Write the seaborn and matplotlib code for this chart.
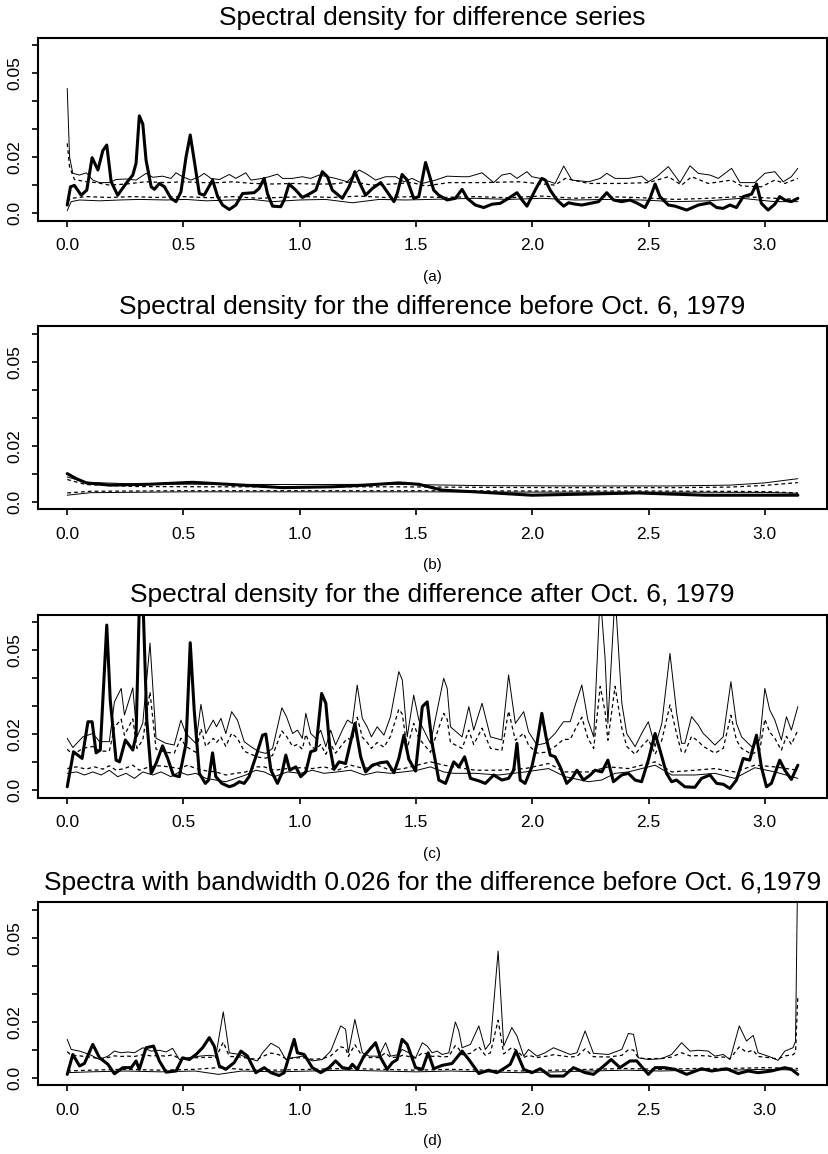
import matplotlib
matplotlib.use("Agg")
import matplotlib.pyplot as plt
import seaborn as sns

sns.set_style("ticks", {"axes.edgecolor": "black", "xtick.color": "black",
                        "ytick.color": "black", "text.color": "black",
                        "axes.labelcolor": "black"})
plt.rcParams['font.family'] = ['Liberation Sans', 'DejaVu Sans']

# ---------------- panel (a): whole difference series ----------------
a_est_x = [0, 0.014, 0.031, 0.06, 0.084, 0.107, 0.132, 0.153, 0.17, 0.189,
           0.217, 0.253, 0.282, 0.296, 0.31, 0.325, 0.339, 0.361, 0.375, 0.396,
           0.418, 0.446, 0.468, 0.489, 0.511, 0.529, 0.546, 0.568, 0.589, 0.625,
           0.647, 0.668, 0.697, 0.725, 0.754, 0.804, 0.825, 0.847, 0.861, 0.883,
           0.918, 0.933, 0.954, 0.983, 1.011, 1.04, 1.069, 1.097, 1.119, 1.14,
           1.183, 1.212, 1.237, 1.255, 1.283, 1.312, 1.348, 1.376, 1.405, 1.419,
           1.44, 1.462, 1.49, 1.512, 1.541, 1.555, 1.576, 1.598, 1.634, 1.669,
           1.698, 1.72, 1.755, 1.791, 1.827, 1.862, 1.898, 1.934, 1.956, 1.977,
           1.998, 2.02, 2.041, 2.056, 2.077, 2.106, 2.135, 2.156, 2.185, 2.213,
           2.249, 2.285, 2.32, 2.349, 2.384, 2.42, 2.448, 2.485, 2.506, 2.528,
           2.549, 2.585, 2.614, 2.664, 2.714, 2.764, 2.793, 2.821, 2.85, 2.878,
           2.907, 2.943, 2.964, 2.985, 3.014, 3.043, 3.064, 3.086, 3.114, 3.142]
a_est = [0.003, 0.0095, 0.010, 0.0065, 0.0083, 0.0199, 0.0155, 0.0224, 0.0244, 0.0113,
         0.0065, 0.0107, 0.0137, 0.0179, 0.0348, 0.0319, 0.019, 0.0095, 0.0086, 0.0107,
         0.0095, 0.0054, 0.0042, 0.0077, 0.0202, 0.028, 0.019, 0.0071, 0.0065, 0.0119,
         0.006, 0.003, 0.0014, 0.003, 0.0071, 0.0074, 0.0089, 0.0125, 0.0071, 0.0026,
         0.0024, 0.0048, 0.0105, 0.0083, 0.0057, 0.0069, 0.0083, 0.0149, 0.0131, 0.0083,
         0.0054, 0.0095, 0.0149, 0.0113, 0.0065, 0.0089, 0.011, 0.0077, 0.0042, 0.0071,
         0.0139, 0.0119, 0.0054, 0.006, 0.0182, 0.0143, 0.0083, 0.0065, 0.0048, 0.0054,
         0.0086, 0.0054, 0.003, 0.0021, 0.0033, 0.0036, 0.0054, 0.0074, 0.0048, 0.0026,
         0.006, 0.0095, 0.0125, 0.0119, 0.0083, 0.0048, 0.0026, 0.0038, 0.0033, 0.003,
         0.0036, 0.0042, 0.0074, 0.0048, 0.0042, 0.0048, 0.0038, 0.0021, 0.0054, 0.0105,
         0.006, 0.003, 0.0026, 0.0012, 0.003, 0.0038, 0.0021, 0.0018, 0.003, 0.0021,
         0.006, 0.0069, 0.0105, 0.0036, 0.0012, 0.0033, 0.006, 0.0048, 0.0042, 0.0054]

a_up_x = [0, 0.01, 0.024, 0.053, 0.082, 0.11, 0.139, 0.182, 0.21, 0.253,
          0.296, 0.339, 0.368, 0.41, 0.446, 0.468, 0.496, 0.532, 0.568, 0.589,
          0.618, 0.654, 0.697, 0.725, 0.768, 0.79, 0.84, 0.868, 0.904, 0.926,
          0.968, 1.011, 1.047, 1.083, 1.119, 1.154, 1.204, 1.255, 1.283, 1.326,
          1.369, 1.412, 1.448, 1.483, 1.527, 1.584, 1.634, 1.698, 1.727, 1.784,
          1.834, 1.869, 1.905, 1.934, 1.977, 1.998, 2.034, 2.098, 2.135, 2.17,
          2.242, 2.292, 2.32, 2.356, 2.413, 2.47, 2.499, 2.535, 2.585, 2.635,
          2.678, 2.714, 2.764, 2.8, 2.857, 2.893, 2.957, 3.0, 3.043, 3.079,
          3.114, 3.142]
a_up_solid = [0.0446, 0.0202, 0.0143, 0.0137, 0.0145, 0.0119, 0.011, 0.011, 0.0121, 0.0123,
              0.0119, 0.0143, 0.0129, 0.0133, 0.0125, 0.0145, 0.0131, 0.0119, 0.0131, 0.0143,
              0.0125, 0.0121, 0.0139, 0.0125, 0.0145, 0.0119, 0.0125, 0.0131, 0.014, 0.0125,
              0.0125, 0.0131, 0.0125, 0.0137, 0.0131, 0.0125, 0.0113, 0.0155, 0.0143, 0.0119,
              0.0131, 0.0131, 0.0113, 0.0125, 0.0107, 0.0119, 0.0133, 0.0131, 0.0131, 0.0145,
              0.011, 0.0137, 0.0143, 0.0125, 0.0149, 0.0131, 0.0125, 0.0107, 0.0169, 0.0119,
              0.0113, 0.0125, 0.0143, 0.0125, 0.0125, 0.0133, 0.0113, 0.0131, 0.0167, 0.011,
              0.017, 0.0143, 0.0137, 0.0125, 0.0161, 0.011, 0.011, 0.0143, 0.0149, 0.0113,
              0.0131, 0.0161]

a_upd_x = [0, 0.01, 0.031, 0.082, 0.124, 0.182, 0.253, 0.339, 0.425, 0.496,
           0.582, 0.654, 0.711, 0.797, 0.883, 0.968, 1.054, 1.14, 1.226, 1.312,
           1.398, 1.483, 1.541, 1.641, 1.784, 1.941, 2.098, 2.142, 2.242, 2.384,
           2.499, 2.585, 2.642, 2.685, 2.757, 2.857, 2.9, 2.985, 3.043, 3.086,
           3.142]
a_up_dash = [0.025, 0.0167, 0.0121, 0.0113, 0.011, 0.0101, 0.0105, 0.0113, 0.011, 0.0113,
             0.011, 0.011, 0.0113, 0.0107, 0.0105, 0.0107, 0.0105, 0.0105, 0.0113, 0.0101,
             0.0105, 0.011, 0.0098, 0.011, 0.011, 0.0113, 0.0101, 0.0125, 0.0107, 0.0107,
             0.011, 0.0131, 0.0101, 0.0131, 0.0107, 0.0119, 0.0098, 0.0095, 0.0119, 0.0107,
             0.0125]

a_lod_x = [0, 0.017, 0.082, 0.182, 0.282, 0.382, 0.496, 0.611, 0.711, 0.825,
           0.911, 1.026, 1.14, 1.255, 1.369, 1.483, 1.612, 1.755, 1.898, 2.041,
           2.185, 2.327, 2.47, 2.614, 2.757, 2.9, 3.043, 3.142]
a_lo_dash = [0.0042, 0.0054, 0.006, 0.0057, 0.006, 0.0057, 0.006, 0.0056, 0.006, 0.0054,
             0.0057, 0.006, 0.0057, 0.0062, 0.0057, 0.006, 0.0057, 0.006, 0.0056, 0.0062,
             0.0054, 0.006, 0.0056, 0.005, 0.0054, 0.006, 0.0054, 0.005]

a_lo_x = [0, 0.017, 0.053, 0.139, 0.225, 0.31, 0.425, 0.511, 0.597, 0.711,
          0.797, 0.883, 0.997, 1.111, 1.226, 1.341, 1.455, 1.612, 1.755, 1.898,
          2.041, 2.185, 2.327, 2.47, 2.614, 2.757, 2.9, 3.043, 3.142]
a_lo_solid = [0.001, 0.0042, 0.0048, 0.0045, 0.0048, 0.005, 0.0048, 0.005, 0.0045, 0.0048,
              0.005, 0.0042, 0.0048, 0.005, 0.0038, 0.005, 0.0048, 0.0051, 0.0054, 0.005,
              0.0054, 0.0048, 0.005, 0.0048, 0.0042, 0.0045, 0.0054, 0.0042, 0.0042]

# ---------------- panel (b): before Oct. 6, 1979 ----------------
b_est_x = [0, 0.039, 0.082, 0.182, 0.353, 0.539, 0.711, 0.926, 1.14, 1.283,
           1.426, 1.512, 1.612, 1.755, 1.998, 2.17, 2.456, 2.743, 3.142]
b_est = [0.0101, 0.0083, 0.0068, 0.006, 0.0063, 0.007, 0.0062, 0.0051, 0.0054, 0.006,
         0.0068, 0.0063, 0.0042, 0.0036, 0.0024, 0.0027, 0.0032, 0.0024, 0.0024]

b_up_x = [0, 0.08, 0.3, 0.6, 1.0, 1.4, 1.8, 2.2, 2.6, 2.85, 3.0, 3.142]
b_up_solid = [0.0089, 0.007, 0.0064, 0.0063, 0.0062, 0.0063, 0.0058, 0.0057, 0.0057, 0.006, 0.0068, 0.0083]
b_up_dash = [0.008, 0.0062, 0.0055, 0.0054, 0.0054, 0.0054, 0.0052, 0.0051, 0.0051, 0.0053, 0.0059, 0.0069]

b_lo_x = [0, 0.1, 0.5, 1.0, 1.5, 2.0, 2.5, 3.0, 3.142]
b_lo_dash = [0.0032, 0.0038, 0.004, 0.004, 0.004, 0.0039, 0.0039, 0.0037, 0.0032]
b_lo_solid = [0.0024, 0.0033, 0.0036, 0.0036, 0.0036, 0.0035, 0.0035, 0.0034, 0.0031]

# ---------------- panel (c): after Oct. 6, 1979 ----------------
c_est_x = [0, 0.027, 0.064, 0.089, 0.107, 0.124, 0.142, 0.17, 0.185, 0.21,
           0.225, 0.25, 0.282, 0.296, 0.31, 0.328, 0.342, 0.361, 0.382, 0.41,
           0.432, 0.456, 0.482, 0.511, 0.529, 0.546, 0.568, 0.594, 0.608, 0.625,
           0.639, 0.665, 0.697, 0.718, 0.74, 0.761, 0.782, 0.811, 0.84, 0.854,
           0.876, 0.904, 0.923, 0.94, 0.957, 0.983, 1.004, 1.026, 1.047, 1.069,
           1.094, 1.112, 1.129, 1.147, 1.169, 1.197, 1.237, 1.262, 1.283, 1.312,
           1.348, 1.376, 1.405, 1.426, 1.448, 1.469, 1.498, 1.527, 1.548, 1.569,
           1.598, 1.627, 1.662, 1.684, 1.709, 1.734, 1.77, 1.798, 1.834, 1.869,
           1.898, 1.92, 1.934, 1.948, 1.969, 1.998, 2.02, 2.041, 2.059, 2.077,
           2.098, 2.12, 2.148, 2.17, 2.192, 2.22, 2.249, 2.27, 2.299, 2.325,
           2.349, 2.384, 2.413, 2.442, 2.47, 2.499, 2.528, 2.549, 2.577, 2.599,
           2.62, 2.656, 2.699, 2.728, 2.764, 2.793, 2.821, 2.85, 2.878, 2.907,
           2.935, 2.964, 2.985, 3.007, 3.028, 3.064, 3.086, 3.114, 3.142]
c_est = [0.0012, 0.0137, 0.0113, 0.0244, 0.0244, 0.0133, 0.0143, 0.0589, 0.0321, 0.0107,
         0.0101, 0.0179, 0.0143, 0.0196, 0.066, 0.0619, 0.025, 0.006, 0.0095, 0.0158,
         0.0113, 0.0054, 0.0048, 0.0167, 0.0526, 0.0286, 0.006, 0.0024, 0.0036, 0.0133,
         0.0048, 0.0024, 0.0012, 0.0018, 0.003, 0.0024, 0.0048, 0.0119, 0.0196, 0.02,
         0.0071, 0.0024, 0.006, 0.0125, 0.0071, 0.0083, 0.0048, 0.0065, 0.0137, 0.0143,
         0.0345, 0.031, 0.0155, 0.0074, 0.0101, 0.0095, 0.0238, 0.0119, 0.0065, 0.0089,
         0.0098, 0.0101, 0.0062, 0.0113, 0.0196, 0.011, 0.0068, 0.0298, 0.0315, 0.0167,
         0.0036, 0.0024, 0.0101, 0.0083, 0.0119, 0.0042, 0.0033, 0.0024, 0.0054, 0.0036,
         0.0042, 0.0071, 0.0167, 0.0036, 0.0024, 0.0083, 0.0167, 0.0274, 0.019, 0.0125,
         0.0119, 0.0083, 0.0024, 0.0042, 0.0071, 0.0036, 0.0054, 0.0071, 0.0065, 0.0107,
         0.003, 0.0054, 0.006, 0.0036, 0.003, 0.0107, 0.0202, 0.0143, 0.006, 0.003,
         0.0036, 0.0012, 0.001, 0.0042, 0.0054, 0.0024, 0.0021, 0.0006, 0.0036, 0.0113,
         0.0107, 0.0196, 0.0083, 0.0012, 0.0024, 0.0107, 0.0071, 0.0038, 0.0089]

c_up_x = [0, 0.024, 0.067, 0.11, 0.139, 0.181, 0.203, 0.232, 0.246, 0.282,
          0.3, 0.325, 0.356, 0.382, 0.425, 0.46, 0.489, 0.51, 0.553, 0.575,
          0.596, 0.628, 0.642, 0.661, 0.682, 0.707, 0.732, 0.761, 0.79, 0.825,
          0.854, 0.883, 0.923, 0.943, 0.969, 0.99, 1.011, 1.026, 1.047, 1.069,
          1.09, 1.112, 1.133, 1.154, 1.183, 1.205, 1.226, 1.247, 1.269, 1.29,
          1.308, 1.333, 1.362, 1.39, 1.426, 1.441, 1.462, 1.49, 1.512, 1.562,
          1.619, 1.634, 1.648, 1.698, 1.727, 1.748, 1.784, 1.82, 1.869, 1.898,
          1.927, 1.963, 1.984, 2.02, 2.055, 2.098, 2.134, 2.163, 2.187, 2.213,
          2.239, 2.264, 2.292, 2.313, 2.325, 2.356, 2.385, 2.406, 2.442, 2.47,
          2.499, 2.528, 2.557, 2.592, 2.621, 2.642, 2.656, 2.685, 2.714, 2.735,
          2.757, 2.785, 2.821, 2.854, 2.878, 2.9, 2.943, 2.978, 3.0, 3.021,
          3.043, 3.071, 3.093, 3.114, 3.142]
c_up_solid = [0.0185, 0.0152, 0.019, 0.0202, 0.0173, 0.0173, 0.0315, 0.0363, 0.0268, 0.0365,
              0.019, 0.024, 0.0525, 0.0185, 0.0167, 0.0161, 0.025, 0.0202, 0.0167, 0.0306,
              0.0202, 0.025, 0.0226, 0.0256, 0.0202, 0.028, 0.025, 0.0173, 0.0155, 0.0137,
              0.0131, 0.0149, 0.0294, 0.0262, 0.0202, 0.0214, 0.0185, 0.0274, 0.0202, 0.0185,
              0.0214, 0.0155, 0.0214, 0.0161, 0.0214, 0.025, 0.0238, 0.0375, 0.0256, 0.0226,
              0.019, 0.0226, 0.0196, 0.0262, 0.0423, 0.0393, 0.019, 0.0339, 0.025, 0.0167,
              0.0399, 0.0363, 0.0226, 0.019, 0.0298, 0.0214, 0.031, 0.019, 0.0179, 0.0411,
              0.0238, 0.028, 0.0208, 0.0161, 0.0167, 0.0202, 0.0244, 0.0244, 0.031, 0.0375,
              0.025, 0.019, 0.07, 0.047, 0.0238, 0.07, 0.031, 0.0202, 0.0155, 0.0202,
              0.0244, 0.0155, 0.0238, 0.0488, 0.0274, 0.0167, 0.0167, 0.0262, 0.0232, 0.0202,
              0.0185, 0.0161, 0.019, 0.0387, 0.0238, 0.019, 0.0155, 0.0179, 0.0363, 0.0286,
              0.025, 0.0179, 0.0262, 0.0214, 0.0298]
c_up_dash = [0.0146, 0.0126, 0.0149, 0.0156, 0.0139, 0.0139, 0.0224, 0.0253, 0.0196, 0.0254,
             0.0149, 0.0179, 0.035, 0.0146, 0.0135, 0.0132, 0.0185, 0.0156, 0.0135, 0.0219,
             0.0156, 0.0185, 0.017, 0.0189, 0.0156, 0.0203, 0.0185, 0.0139, 0.0128, 0.0117,
             0.0114, 0.0124, 0.0211, 0.0192, 0.0156, 0.0163, 0.0146, 0.0199, 0.0156, 0.0146,
             0.0163, 0.0128, 0.0163, 0.0132, 0.0163, 0.0185, 0.0178, 0.026, 0.0189, 0.017,
             0.0149, 0.017, 0.0153, 0.0192, 0.0289, 0.0271, 0.0149, 0.0238, 0.0185, 0.0135,
             0.0274, 0.0253, 0.017, 0.0149, 0.0214, 0.0163, 0.0221, 0.0149, 0.0142, 0.0282,
             0.0178, 0.0203, 0.016, 0.0132, 0.0135, 0.0156, 0.0181, 0.0181, 0.0221, 0.026,
             0.0185, 0.0149, 0.037, 0.028, 0.0178, 0.037, 0.0221, 0.0156, 0.0128, 0.0156,
             0.0181, 0.0128, 0.0178, 0.0304, 0.0199, 0.0135, 0.0135, 0.0192, 0.0174, 0.0156,
             0.0146, 0.0132, 0.0149, 0.0267, 0.0178, 0.0149, 0.0128, 0.0142, 0.0253, 0.0207,
             0.0185, 0.0142, 0.0192, 0.0163, 0.0214]

c_lod_x = [0, 0.04, 0.081, 0.117, 0.153, 0.181, 0.21, 0.246, 0.282, 0.31,
           0.353, 0.396, 0.439, 0.482, 0.518, 0.553, 0.596, 0.639, 0.682, 0.725,
           0.768, 0.811, 0.847, 0.89, 0.947, 1.004, 1.054, 1.104, 1.162, 1.219,
           1.276, 1.333, 1.39, 1.447, 1.505, 1.562, 1.619, 1.662, 1.755, 1.855,
           1.97, 2.07, 2.141, 2.241, 2.327, 2.413, 2.528, 2.6, 2.7, 2.785,
           2.871, 2.957, 3.043, 3.142]
c_lo_dash = [0.0077, 0.0083, 0.0075, 0.0083, 0.0075, 0.0087, 0.0071, 0.0077, 0.0089, 0.0071,
             0.0083, 0.0087, 0.0083, 0.0077, 0.0089, 0.0077, 0.0069, 0.0065, 0.0054, 0.006,
             0.0065, 0.0083, 0.0083, 0.0071, 0.0077, 0.008, 0.0077, 0.0083, 0.0071, 0.0089,
             0.0077, 0.0089, 0.0071, 0.0077, 0.0089, 0.0101, 0.0089, 0.0083, 0.0071, 0.0071,
             0.0077, 0.0095, 0.0065, 0.0065, 0.0083, 0.0077, 0.0101, 0.0065, 0.0071, 0.0077,
             0.0065, 0.0089, 0.0083, 0.0071]

c_lo_x = [0, 0.04, 0.074, 0.11, 0.146, 0.181, 0.217, 0.253, 0.289, 0.325,
          0.368, 0.403, 0.446, 0.482, 0.518, 0.553, 0.596, 0.639, 0.682, 0.725,
          0.768, 0.811, 0.847, 0.89, 0.947, 1.004, 1.054, 1.104, 1.162, 1.219,
          1.276, 1.333, 1.39, 1.447, 1.505, 1.562, 1.619, 1.662, 1.755, 1.855,
          1.97, 2.07, 2.141, 2.241, 2.298, 2.356, 2.413, 2.528, 2.6, 2.7,
          2.785, 2.871, 2.957, 3.043, 3.142]
c_lo_solid = [0.006, 0.0065, 0.0054, 0.0065, 0.0054, 0.0071, 0.0048, 0.006, 0.0042, 0.0065,
              0.0054, 0.0065, 0.0048, 0.0065, 0.0054, 0.006, 0.0042, 0.0036, 0.003, 0.0042,
              0.0054, 0.0071, 0.0065, 0.0048, 0.0065, 0.006, 0.0071, 0.006, 0.0065, 0.0071,
              0.0054, 0.0065, 0.006, 0.0065, 0.0071, 0.0083, 0.0065, 0.006, 0.006, 0.0054,
              0.0065, 0.0077, 0.0048, 0.003, 0.0036, 0.006, 0.0065, 0.0089, 0.0054, 0.0054,
              0.006, 0.0042, 0.008, 0.0065, 0.0042]

# ---------------- panel (d): bandwidth 0.026, before Oct. 6, 1979 ----------------
d_est_x = [0, 0.024, 0.053, 0.074, 0.11, 0.139, 0.175, 0.203, 0.239, 0.275,
           0.296, 0.31, 0.339, 0.371, 0.396, 0.425, 0.468, 0.496, 0.525, 0.554,
           0.582, 0.611, 0.632, 0.654, 0.682, 0.718, 0.747, 0.775, 0.811, 0.847,
           0.876, 0.911, 0.933, 0.954, 0.976, 0.99, 1.019, 1.054, 1.09, 1.126,
           1.154, 1.183, 1.212, 1.226, 1.247, 1.276, 1.326, 1.348, 1.376, 1.398,
           1.419, 1.44, 1.462, 1.498, 1.527, 1.552, 1.576, 1.612, 1.655, 1.698,
           1.727, 1.77, 1.812, 1.848, 1.884, 1.905, 1.93, 1.963, 1.998, 2.034,
           2.077, 2.135, 2.177, 2.227, 2.263, 2.299, 2.339, 2.377, 2.42, 2.449,
           2.499, 2.528, 2.569, 2.614, 2.664, 2.728, 2.771, 2.835, 2.885, 2.928,
           2.971, 3.028, 3.086, 3.114, 3.142]
d_est = [0.0012, 0.0083, 0.0042, 0.0051, 0.0119, 0.0071, 0.0048, 0.0014, 0.0036, 0.0036,
         0.006, 0.003, 0.0107, 0.0113, 0.006, 0.002, 0.0024, 0.0071, 0.0065, 0.0083,
         0.0107, 0.0143, 0.0113, 0.0042, 0.003, 0.0054, 0.0095, 0.0077, 0.0018, 0.0036,
         0.0018, 0.0008, 0.0018, 0.0077, 0.0137, 0.0089, 0.0083, 0.0036, 0.0018, 0.0036,
         0.006, 0.0036, 0.0032, 0.0048, 0.003, 0.0077, 0.0125, 0.0071, 0.003, 0.0054,
         0.0065, 0.0137, 0.0119, 0.0036, 0.003, 0.0089, 0.0032, 0.0044, 0.0051, 0.0095,
         0.0065, 0.0015, 0.0027, 0.0018, 0.0036, 0.0048, 0.0095, 0.003, 0.0018, 0.0032,
         0.0006, 0.0006, 0.0036, 0.0018, 0.0012, 0.0036, 0.0065, 0.0036, 0.006, 0.006,
         0.0012, 0.0036, 0.0036, 0.003, 0.0012, 0.0032, 0.0024, 0.0032, 0.0015, 0.0024,
         0.0018, 0.0024, 0.0036, 0.003, 0.0012]

d_up_x = [0, 0.017, 0.053, 0.096, 0.139, 0.175, 0.203, 0.232, 0.26, 0.289,
          0.325, 0.361, 0.396, 0.425, 0.453, 0.482, 0.525, 0.568, 0.611, 0.639,
          0.671, 0.697, 0.74, 0.783, 0.818, 0.84, 0.876, 0.911, 0.94, 0.969,
          1.011, 1.054, 1.097, 1.133, 1.176, 1.197, 1.209, 1.237, 1.269, 1.298,
          1.34, 1.369, 1.391, 1.426, 1.44, 1.469, 1.498, 1.527, 1.548, 1.569,
          1.591, 1.612, 1.641, 1.669, 1.684, 1.698, 1.734, 1.77, 1.798, 1.82,
          1.853, 1.877, 1.912, 1.934, 1.963, 1.984, 2.02, 2.055, 2.091, 2.127,
          2.163, 2.192, 2.227, 2.263, 2.327, 2.385, 2.413, 2.435, 2.456, 2.499,
          2.556, 2.599, 2.642, 2.678, 2.714, 2.757, 2.785, 2.821, 2.85, 2.89,
          2.921, 2.95, 2.971, 3.014, 3.057, 3.086, 3.121, 3.132, 3.142]
d_up_solid = [0.0137, 0.0101, 0.0095, 0.0083, 0.0065, 0.0077, 0.0095, 0.0089, 0.0092, 0.0089,
              0.0107, 0.0095, 0.0098, 0.0092, 0.0105, 0.0065, 0.0071, 0.0077, 0.008, 0.0077,
              0.0235, 0.0089, 0.0083, 0.0068, 0.006, 0.0089, 0.0123, 0.0107, 0.0065, 0.0071,
              0.0077, 0.006, 0.0065, 0.0095, 0.0185, 0.0173, 0.0089, 0.0208, 0.0089, 0.0077,
              0.0077, 0.0125, 0.0077, 0.0083, 0.0101, 0.0089, 0.0071, 0.0125, 0.0113, 0.0089,
              0.0095, 0.0083, 0.0089, 0.0199, 0.0167, 0.0107, 0.0119, 0.0185, 0.0101, 0.0125,
              0.0452, 0.0113, 0.0179, 0.0149, 0.0077, 0.0101, 0.0077, 0.0089, 0.0107, 0.0095,
              0.0083, 0.0089, 0.0167, 0.0087, 0.0083, 0.0101, 0.0158, 0.0155, 0.0071, 0.0065,
              0.0068, 0.0083, 0.0125, 0.0095, 0.0098, 0.0095, 0.0077, 0.0083, 0.0065, 0.0185,
              0.0131, 0.0151, 0.0089, 0.0077, 0.0062, 0.0095, 0.0107, 0.013, 0.08]
d_up_dash = [0.0093, 0.008, 0.0078, 0.0074, 0.0068, 0.0072, 0.0078, 0.0076, 0.0077, 0.0076,
             0.0082, 0.0078, 0.0079, 0.0077, 0.0082, 0.0068, 0.007, 0.0072, 0.0073, 0.0072,
             0.0127, 0.0076, 0.0074, 0.0069, 0.0066, 0.0076, 0.0088, 0.0082, 0.0068, 0.007,
             0.0072, 0.0066, 0.0068, 0.0078, 0.011, 0.0106, 0.0076, 0.0118, 0.0076, 0.0072,
             0.0072, 0.0089, 0.0072, 0.0074, 0.008, 0.0076, 0.007, 0.0089, 0.0085, 0.0076,
             0.0078, 0.0074, 0.0076, 0.0115, 0.0103, 0.0082, 0.0087, 0.011, 0.008, 0.0089,
             0.0205, 0.0085, 0.0108, 0.0097, 0.0072, 0.008, 0.0072, 0.0076, 0.0082, 0.0078,
             0.0074, 0.0076, 0.0103, 0.0075, 0.0074, 0.008, 0.01, 0.0099, 0.007, 0.0068,
             0.0069, 0.0074, 0.0089, 0.0078, 0.0079, 0.0078, 0.0072, 0.0074, 0.0068, 0.011,
             0.0091, 0.0098, 0.0076, 0.0072, 0.0067, 0.0078, 0.0082, 0.009, 0.0295]

d_lo_x = [0, 0.1, 0.25, 0.4, 0.55, 0.65, 0.75, 0.9, 1.05, 1.2, 1.35, 1.5,
          1.65, 1.8, 1.95, 2.1, 2.25, 2.4, 2.55, 2.7, 2.85, 3.0, 3.142]
d_lo_dash = [0.0024, 0.0027, 0.003, 0.0027, 0.003, 0.0036, 0.003, 0.0027, 0.003, 0.0033, 0.003, 0.0027,
             0.003, 0.0027, 0.0024, 0.0027, 0.003, 0.0033, 0.003, 0.0033, 0.0033, 0.0036, 0.0033]
d_lo_solid = [0.0018, 0.0021, 0.0024, 0.0021, 0.0024, 0.0012, 0.0024, 0.0021, 0.0024, 0.0027, 0.0024, 0.0021,
              0.0024, 0.0021, 0.0018, 0.0021, 0.0024, 0.0027, 0.0024, 0.0027, 0.0027, 0.003, 0.0027]

titles = ["Spectral density for difference series",
          "Spectral density for the difference before Oct. 6, 1979",
          "Spectral density for the difference after Oct. 6, 1979",
          "Spectra with bandwidth 0.026 for the difference before Oct. 6,1979"]
panel_tags = ["(a)", "(b)", "(c)", "(d)"]
x_ticks = [0.0, 0.5, 1.0, 1.5, 2.0, 2.5, 3.0]
x_ticklabels = ["0.0", "0.5", "1.0", "1.5", "2.0", "2.5", "3.0"]
y_ticks = [0.0, 0.01, 0.02, 0.03, 0.04, 0.05, 0.06]
y_ticklabels = ["0.0", "", "0.02", "", "", "0.05", ""]

panels = [
    (a_est_x, a_est, a_up_x, a_up_solid, a_upd_x, a_up_dash, a_lod_x, a_lo_dash, a_lo_x, a_lo_solid),
    (b_est_x, b_est, b_up_x, b_up_solid, b_up_x, b_up_dash, b_lo_x, b_lo_dash, b_lo_x, b_lo_solid),
    (c_est_x, c_est, c_up_x, c_up_solid, c_up_x, c_up_dash, c_lod_x, c_lo_dash, c_lo_x, c_lo_solid),
    (d_est_x, d_est, d_up_x, d_up_solid, d_up_x, d_up_dash, d_lo_x, d_lo_dash, d_lo_x, d_lo_solid),
]

W, H = 829, 1154
fig = plt.figure(figsize=(W / 100, H / 100), dpi=100)
bottoms_px = [221, 509.5, 797.7, 1085.3]
ax_h = 183

for i, (ex, ey, ux, uy, udx, udy, ldx, ldy, lx, ly) in enumerate(panels):
    ax = fig.add_axes([38 / W, 1 - bottoms_px[i] / H, 789 / W, ax_h / H])
    thin = dict(color="black", lw=0.7, estimator=None, sort=False, ax=ax)
    dash = dict(color="black", lw=0.9, estimator=None, sort=False, ax=ax)
    sns.lineplot(x=ux, y=uy, **thin)
    sns.lineplot(x=lx, y=ly, **thin)
    # dashed inner bands
    sns.lineplot(x=udx, y=udy, **dash).lines[-1].set_linestyle((0, (3, 2.5)))
    sns.lineplot(x=ldx, y=ldy, **dash).lines[-1].set_linestyle((0, (3, 2.5)))
    # spectral estimate
    sns.lineplot(x=ex, y=ey, color="black", lw=2.2, estimator=None, sort=False, ax=ax)

    ax.set_xlim(-0.1257, 3.2673)
    ax.set_ylim(-0.0027, 0.0626)
    ax.set_xticks(x_ticks)
    ax.set_xticklabels(x_ticklabels, fontsize=12.5)
    ax.set_yticks(y_ticks)
    ax.set_yticklabels(y_ticklabels, fontsize=12.5, rotation=90, va="center")
    ax.tick_params(axis="x", direction="out", length=4, width=1.2, pad=8.5)
    ax.tick_params(axis="y", direction="out", length=4, width=1.2, pad=7)
    ax.set_xlabel("")
    ax.set_ylabel("")
    for s in ax.spines.values():
        s.set_linewidth(1.5)
        s.set_visible(True)
    ax.set_title(titles[i], fontsize=19, pad=9)
    fig.text(432.5 / W, 1 - (bottoms_px[i] + 56) / H, panel_tags[i],
             ha="center", va="center", fontsize=11)

fig.savefig("out.png", dpi=100)
